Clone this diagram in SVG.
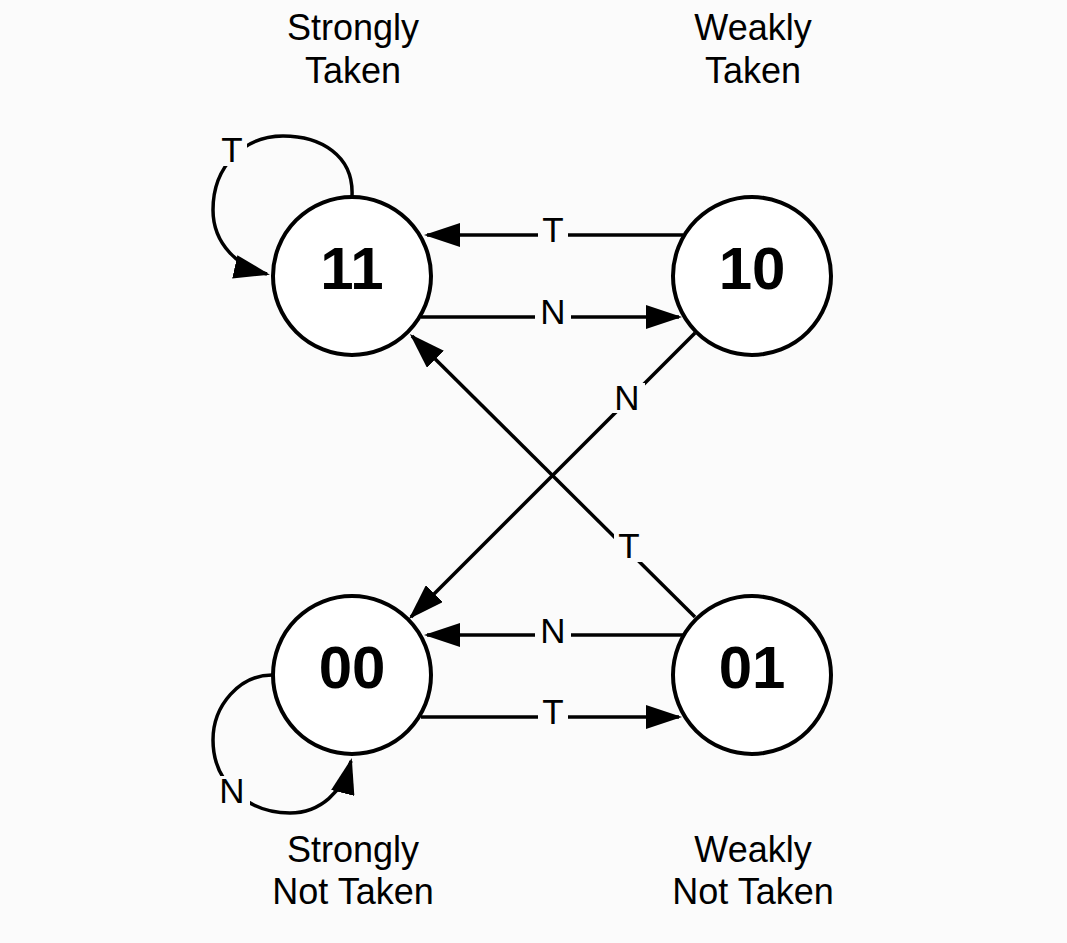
<svg xmlns="http://www.w3.org/2000/svg" width="1067" height="943" viewBox="0 0 1067 943">
<defs>
<style>
.bg{fill:#fbfbfb}
.st{fill:#ffffff;stroke:#000;stroke-width:4}
.num{font-family:"Liberation Sans",Arial,sans-serif;font-weight:bold;font-size:60px;text-anchor:middle;fill:#000}
.ttl{font-family:"Liberation Sans",Arial,sans-serif;font-size:36px;text-anchor:middle;fill:#000}
.lbl{font-family:"Liberation Sans",Arial,sans-serif;font-size:35px;text-anchor:middle;fill:#000}
.e{fill:none;stroke:#000;stroke-width:3.5;marker-end:url(#ah)}
.gap{fill:#fbfbfb}
</style>
<marker id="ah" markerUnits="userSpaceOnUse" markerWidth="37" markerHeight="24" refX="33" refY="12" orient="auto">
<path d="M0,0 L36,12 L0,24 Z" fill="#000"/>
</marker>
</defs>
<rect class="bg" x="0" y="0" width="1067" height="943"/>

<g id="connectors">
<path class="e" d="M683,235 L427,235"/>
<path class="e" d="M421,317 L679,317"/>
<path class="e" d="M683,635 L427,635"/>
<path class="e" d="M421,717 L679,717"/>
<path class="e" d="M695,333 L411,617"/>
<path class="e" d="M695,617 L412,336"/>
<path class="e" d="M352,196 C354,155 320,136 283,136 C245,136 213,165 213,210 C213,245 240,268 267,274"/>
<path class="e" d="M272,675 C240,675 213,705 213,740 C213,785 250,813 290,813 C320,813 343,792 351,761"/>
<rect class="gap" x="538" y="215" width="30" height="30"/>
<text class="lbl" x="553" y="242">T</text>
<rect class="gap" x="535" y="297" width="36" height="30"/>
<text class="lbl" x="553" y="324">N</text>
<rect class="gap" x="535" y="616" width="36" height="30"/>
<text class="lbl" x="553" y="643">N</text>
<rect class="gap" x="538" y="698" width="30" height="30"/>
<text class="lbl" x="553" y="724">T</text>
<rect class="gap" x="609" y="383" width="36" height="30"/>
<text class="lbl" x="627" y="410">N</text>
<rect class="gap" x="614" y="532" width="30" height="30"/>
<text class="lbl" x="629" y="558">T</text>
<rect class="gap" x="217" y="136" width="30" height="30"/>
<text class="lbl" x="232" y="162">T</text>
<rect class="gap" x="214" y="776" width="36" height="30"/>
<text class="lbl" x="232" y="803">N</text>
</g>

<g id="node-11">
<circle class="st" cx="352" cy="276" r="79"/>
<text class="num" x="352" y="289">11</text>
</g>
<g id="node-10">
<circle class="st" cx="752" cy="276" r="79"/>
<text class="num" x="752" y="289">10</text>
</g>
<g id="node-00">
<circle class="st" cx="352" cy="675" r="79"/>
<text class="num" x="352" y="688">00</text>
</g>
<g id="node-01">
<circle class="st" cx="752" cy="675" r="79"/>
<text class="num" x="752" y="688">01</text>
</g>

<g id="title-strongly-taken">
<text class="ttl" x="353" y="40">Strongly</text>
<text class="ttl" x="353" y="83">Taken</text>
</g>
<g id="title-weakly-taken">
<text class="ttl" x="753" y="40">Weakly</text>
<text class="ttl" x="753" y="83">Taken</text>
</g>
<g id="title-strongly-not-taken">
<text class="ttl" x="353" y="862">Strongly</text>
<text class="ttl" x="353" y="904">Not Taken</text>
</g>
<g id="title-weakly-not-taken">
<text class="ttl" x="753" y="862">Weakly</text>
<text class="ttl" x="753" y="904">Not Taken</text>
</g>
</svg>
